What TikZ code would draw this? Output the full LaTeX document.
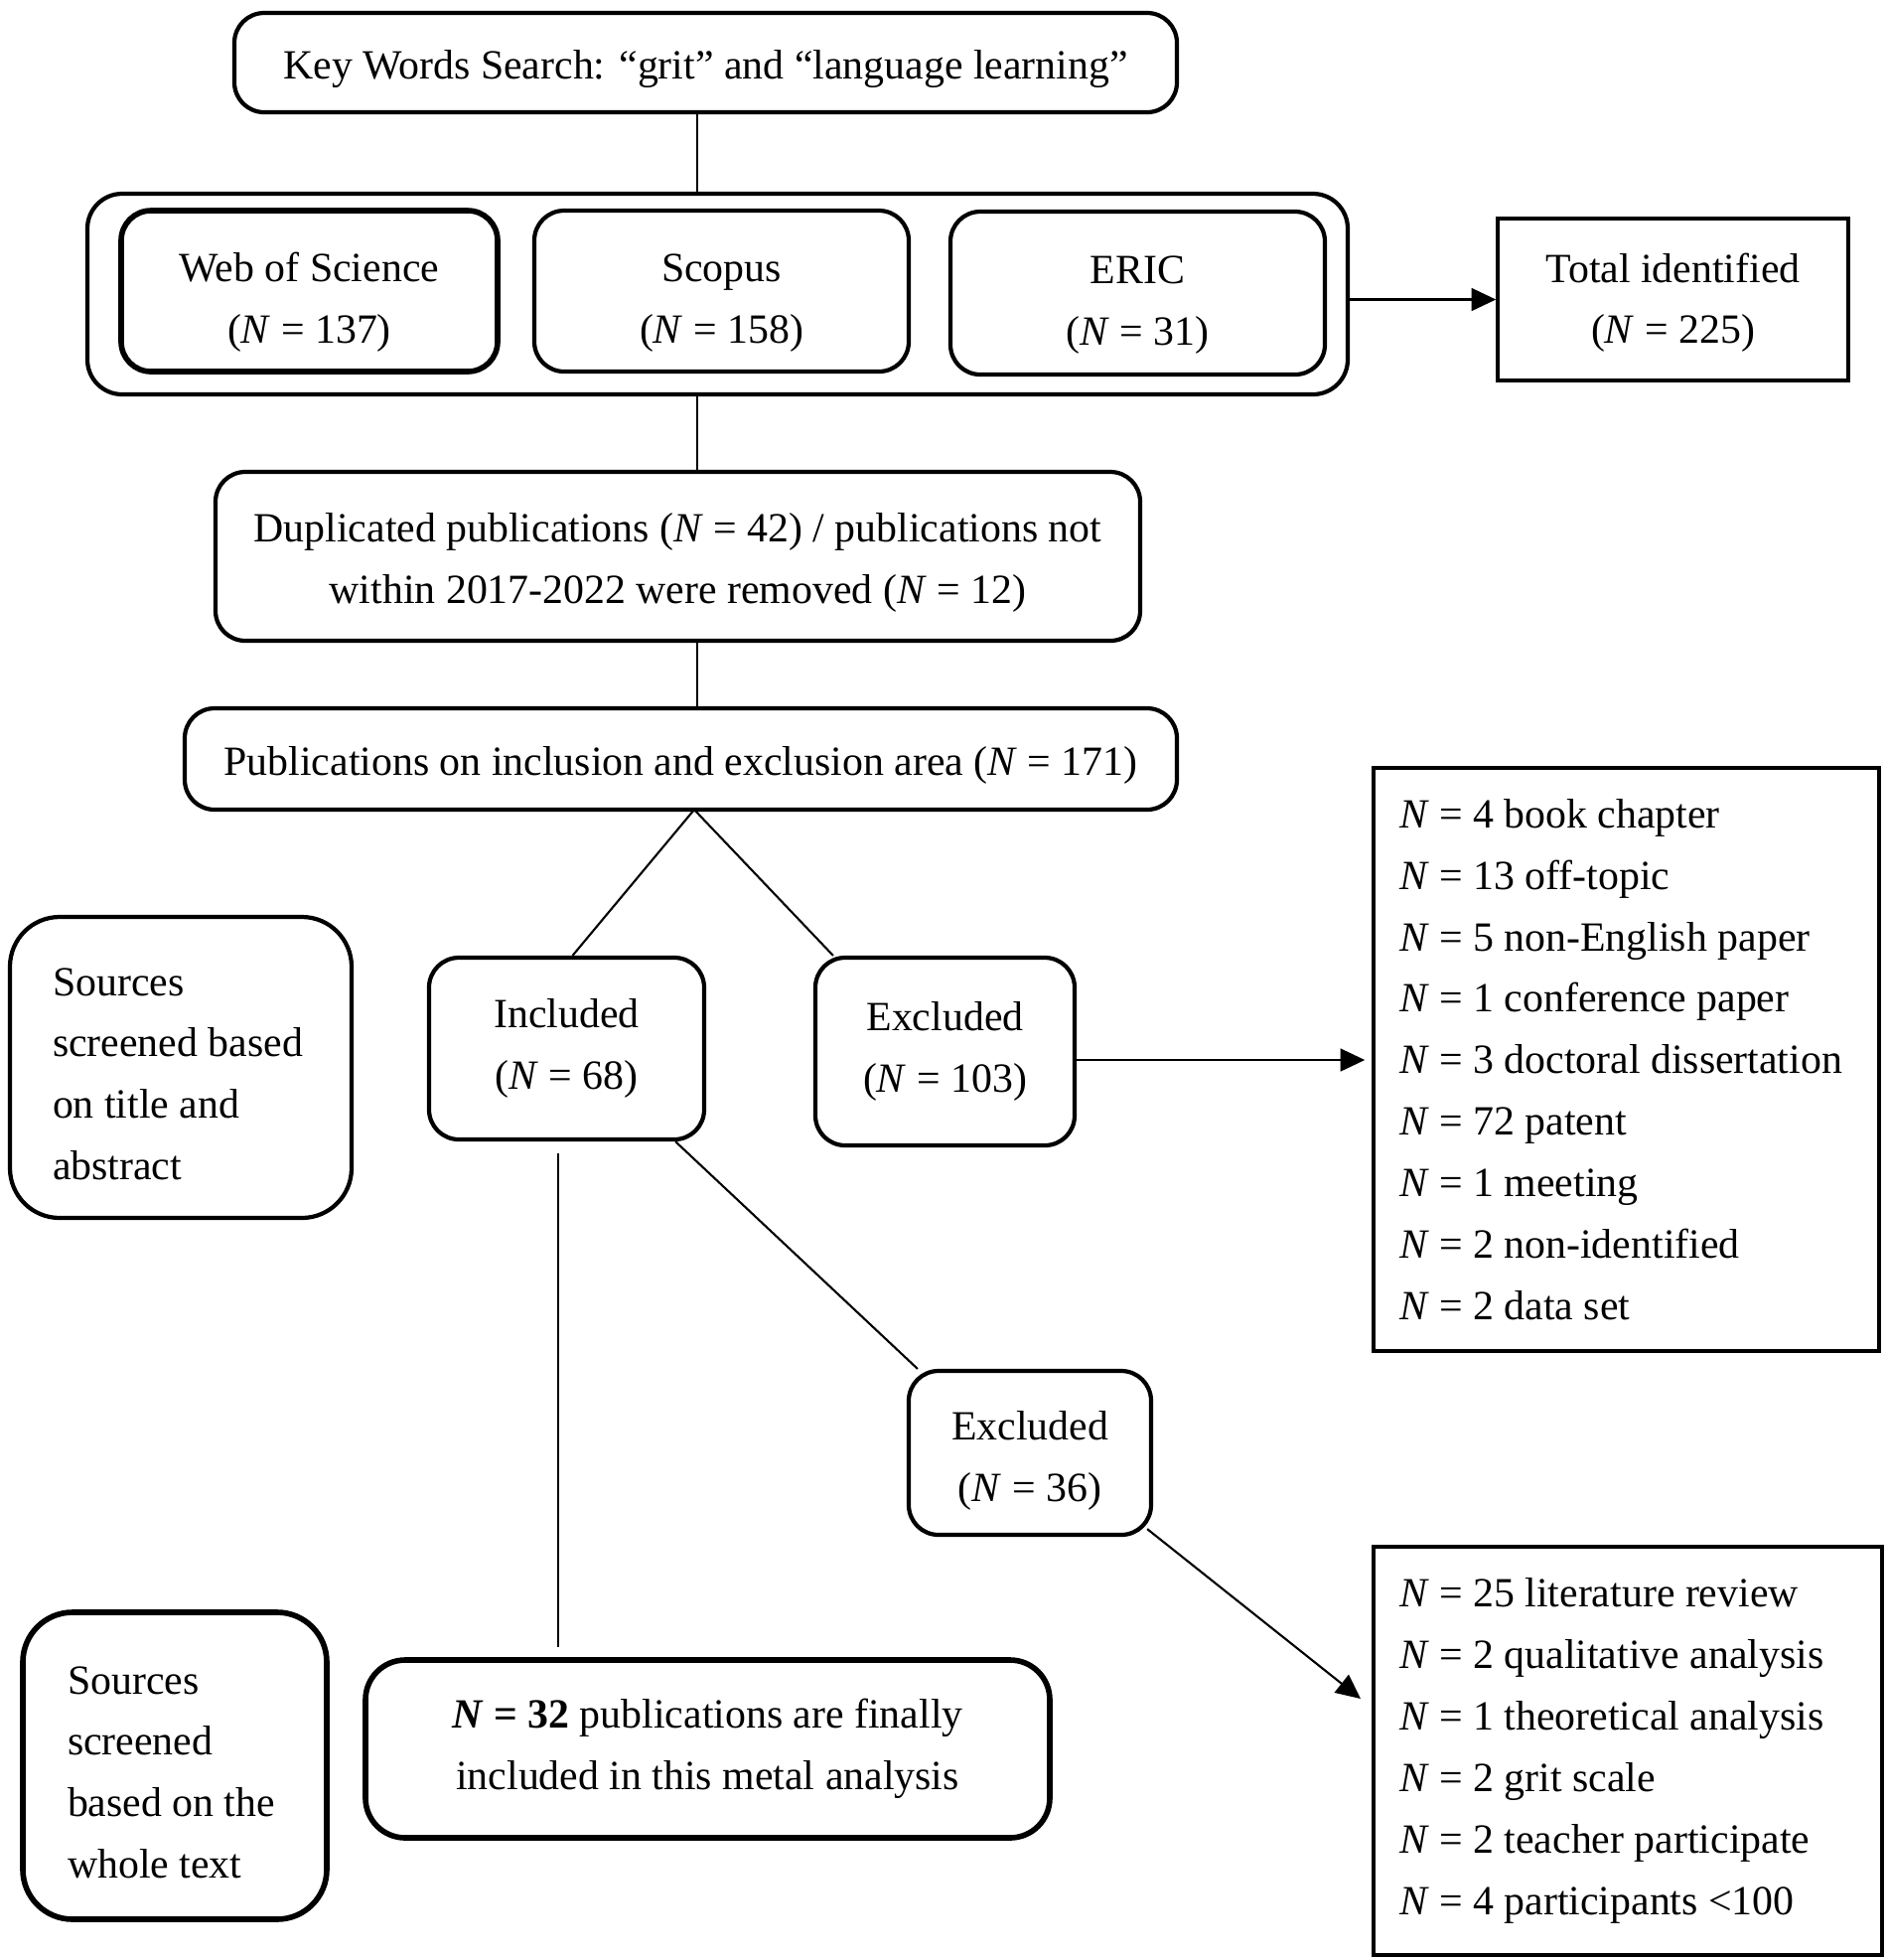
\documentclass[tikz,border=0pt]{standalone}
\usepackage{fontspec}
\setmainfont{Liberation Serif}
\usetikzlibrary{arrows.meta,calc}

\newcommand{\nEq}[1]{\textit{N} = #1}
\newcommand{\lift}[1]{\rule{0pt}{#1}}

\tikzset{
	rbox/.style={draw, rounded corners=0.3cm, line width=1.2pt, align=center, fill=white, execute at begin node={\rule{0pt}{0.41cm}}},
	sbox/.style={draw, line width=1pt, fill=white},
	conn/.style={line width=0.6pt},
	>={Triangle[length=7pt,width=6.5pt]}
}

\begin{document}
\begin{tikzpicture}[font={\fontsize{11.9}{17.6}\selectfont}]
			\useasboundingbox (0,0) rectangle (19.02,-19.73);
			\coordinate (vx) at (7.02,0);
			
			% search and databases
			\node[rbox, minimum width=9.49cm, minimum height=1.00cm] (key) at (7.105,-0.63) {Key Words Search: “grit” and “language learning”};
			\node[rbox, rounded corners=0.35cm, minimum width=12.69cm, minimum height=2.02cm] (cont) at (7.225,-2.96) {};
			\node[rbox, line width=1.6pt, minimum width=3.79cm, minimum height=1.62cm] (wos) at (3.115,-2.93) {\lift{0.52cm}Web of Science\\(\nEq{137})};
			\node[rbox, minimum width=3.77cm, minimum height=1.62cm] (scopus) at (7.265,-2.93) {\lift{0.52cm}Scopus\\(\nEq{158})};
			\node[rbox, minimum width=3.77cm, minimum height=1.64cm] (eric) at (11.455,-2.95) {\lift{0.52cm}ERIC\\(\nEq{31})};
			\node[sbox, align=center, minimum width=3.53cm, minimum height=1.63cm] (total) at (16.845,-3.015) {\lift{0.36cm}Total identified\\(\nEq{225})};
			
			\node[rbox, minimum width=9.31cm, minimum height=1.70cm] (dup) at (6.825,-5.60) {\lift{0.42cm}Duplicated publications (\nEq{42}) / publications not\\within 2017-2022 were removed (\nEq{12})};
			\node[rbox, minimum width=9.99cm, minimum height=1.02cm] (pub) at (6.855,-7.64) {Publications on inclusion and exclusion area (\nEq{171})};
			
			% screening on title and abstract
			\node[rbox, rounded corners=0.5cm, align=flush left, text width=2.58cm, inner xsep=0.43cm, minimum height=3.03cm] (srcA) at (1.82,-10.745) {Sources\\screened based\\on title and\\abstract};
			\node[rbox, minimum width=2.77cm, minimum height=1.83cm] (incl) at (5.705,-10.555) {Included\\(\nEq{68})};
			\node[rbox, minimum width=2.61cm, minimum height=1.89cm] (exclA) at (9.515,-10.585) {Excluded\\(\nEq{103})};
			\node[sbox, align=flush left, text width=4.57cm, inner xsep=0.26cm, minimum height=5.87cm] (listA) at (16.375,-10.665) {\nEq{4} book chapter\\\nEq{13} off-topic\\\nEq{5} non-English paper\\\nEq{1} conference paper\\\nEq{3} doctoral dissertation\\\nEq{72} patent\\\nEq{1} meeting\\\nEq{2} non-identified\\\nEq{2} data set};
			
			% screening on whole text
			\node[rbox, minimum width=2.44cm, minimum height=1.65cm] (exclB) at (10.37,-14.625) {\lift{0.45cm}Excluded\\(\nEq{36})};
			\node[sbox, align=flush left, text width=4.60cm, inner xsep=0.26cm, minimum height=4.11cm] (listB) at (16.39,-17.625) {\nEq{25} literature review\\\nEq{2} qualitative analysis\\\nEq{1} theoretical analysis\\\nEq{2} grit scale\\\nEq{2} teacher participate\\\nEq{4} participants <100};
			\node[rbox, line width=1.6pt, rounded corners=0.5cm, align=flush left, text width=2.16cm, inner xsep=0.45cm, minimum height=3.09cm] (srcB) at (1.76,-17.775) {Sources\\screened\\based on the\\whole text};
			\node[rbox, line width=1.6pt, rounded corners=0.4cm, minimum width=6.89cm, minimum height=1.79cm] (final) at (7.125,-17.605) {\textbf{\nEq{32}} publications are finally\\included in this metal analysis};
			
			\coordinate (fork) at (6.99,-8.15);
			\coordinate (tipB) at (13.70,-17.10);
			
			\draw[conn] (key.south -| vx) -- (cont.north -| vx);
			\draw[conn] (cont.south -| vx) -- (dup.north -| vx);
			\draw[conn] (dup.south -| vx) -- (pub.north -| vx);
			\draw[conn,->] (cont.east |- total) -- (total.west);
			
			\draw[conn] (fork) -- ($(incl.north)+(0.06,0)$);
			\draw[conn] (fork) -- ($(exclA.north west)+(0.2,0)$);
			\draw[conn,->,shorten >=0.07cm] ($(exclA.east)+(0,-0.085)$) -- ($(exclA.east -| listA.west)+(0,-0.085)$);
			
			\draw[conn] ($(incl.south east)+(-0.31,0)$) -- ($(exclB.north west)+(0.11,0)$);
			\draw[conn] ($(incl.south)+(-0.085,-0.12)$) -- ($(incl.south |- final.north)+(-0.085,0.10)$);
			\draw[conn,->] ($(exclB.south east)+(-0.06,0.08)$) -- (tipB);
		\end{tikzpicture}
\end{document}
